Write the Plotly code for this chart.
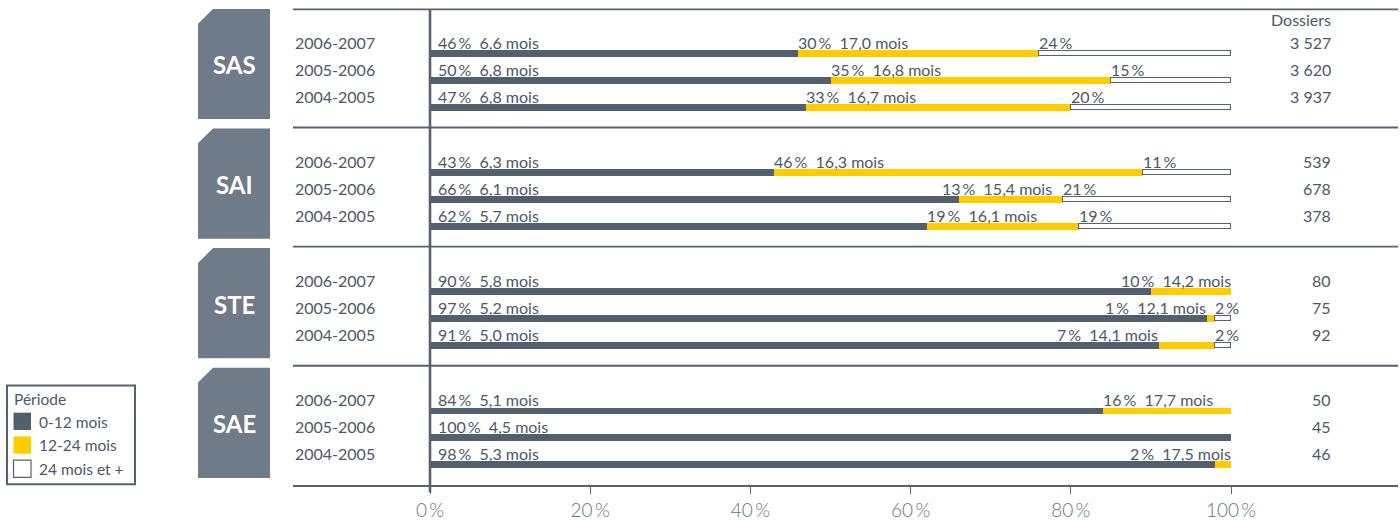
import plotly.graph_objects as go

# ---------------- data ----------------
groups = ["SAS", "SAI", "STE", "SAE"]
periods = ["2006-2007", "2005-2006", "2004-2005"]
pct_0_12 = [[46, 50, 47], [43, 66, 62], [90, 97, 91], [84, 100, 98]]
pct_12_24 = [[30, 35, 33], [46, 13, 19], [10, 1, 7], [16, 0, 2]]
pct_24_plus = [[24, 15, 20], [11, 21, 19], [0, 2, 2], [0, 0, 0]]
mois_0_12 = [[6.6, 6.8, 6.8], [6.3, 6.1, 5.7], [5.8, 5.2, 5.0], [5.1, 4.5, 5.3]]
mois_12_24 = [[17.0, 16.8, 16.7], [16.3, 15.4, 16.1], [14.2, 12.1, 14.1], [17.7, None, 17.5]]
dossiers = [[3527, 3620, 3937], [539, 678, 378], [80, 75, 92], [50, 45, 46]]
x_ticks = [0, 20, 40, 60, 80, 100]
legend_title = "Période"
legend_labels = ["0-12 mois", "12-24 mois", "24 mois et +"]
dossiers_title = "Dossiers"

# ---------------- style / layout ----------------
W, H = 1400, 521
C_DARK = "#525f6c"
C_YEL = "#ffcc00"
C_LINE = "#56626e"
C_TXT = "#4c5865"
C_BOX = "#6f7b89"
FONT = "Lato"

X0_PX, X100_PX = 430, 1231
PXP = (X100_PX - X0_PX) / 100.0
LEFT_PX, RIGHT_PX = 293, 1398
AXIS_Y_PX = 490.7
xr = [(LEFT_PX - X0_PX) / PXP, (RIGHT_PX - X0_PX) / PXP]

G_STEP, R_STEP, FIRST = 120.5, 27.3, 54.0


def px_x(p):
    return p / W


def px_y(p):
    return 1 - p / H


def fmt1(v):
    return f"{v:.1f}".replace(".", ",")


def pct(v):
    return f"{v}\u2009%"


ys, xd, xy, xw = [], [], [], []
for g in range(len(groups)):
    for r in range(len(periods)):
        ys.append(FIRST + g * G_STEP + r * R_STEP)
        xd.append(pct_0_12[g][r] or None)
        xy.append(pct_12_24[g][r] or None)
        xw.append(pct_24_plus[g][r] or None)

fig = go.Figure()
fig.add_trace(go.Bar(y=ys, x=xd, orientation="h", width=6.5, marker=dict(color=C_DARK, line=dict(width=0)),
                     name=legend_labels[0], showlegend=False, hoverinfo="skip"))
fig.add_trace(go.Bar(y=ys, x=xy, orientation="h", width=6.5, marker=dict(color=C_YEL, line=dict(width=0)),
                     name=legend_labels[1], showlegend=False, hoverinfo="skip"))
fig.add_trace(go.Bar(y=ys, x=xw, orientation="h", width=5.5, marker=dict(color="white", line=dict(width=1.2, color=C_LINE)),
                     name=legend_labels[2], showlegend=False, hoverinfo="skip"))

ann = []
shapes = []
lab_font = dict(family=FONT, size=16, color=C_TXT)


def text_pct_width(s):
    return len(s) * 7.4 / PXP


for g in range(len(groups)):
    for r in range(len(periods)):
        yc = FIRST + g * G_STEP + r * R_STEP
        ylab = yc - 11
        d, yv, wv = pct_0_12[g][r], pct_12_24[g][r], pct_24_plus[g][r]
        # year label
        ann.append(dict(x=px_x(LEFT_PX), xref="paper", y=ylab, yref="y", text=periods[r], showarrow=False,
                        xanchor="left", yanchor="middle", font=lab_font))
        # dossiers
        ann.append(dict(x=px_x(1333), xref="paper", y=ylab, yref="y",
                        text=f"{dossiers[g][r]:,}".replace(",", "\u00a0"), showarrow=False,
                        xanchor="right", yanchor="middle", font=lab_font))
        # dark label
        ann.append(dict(x=0, xref="x", y=ylab, yref="y",
                        text=f"{pct(d)}\u00a0\u00a0{fmt1(mois_0_12[g][r])} mois", showarrow=False,
                        xanchor="left", yanchor="middle", xshift=6, font=lab_font))
        # yellow label
        if yv:
            t = f"{pct(yv)}\u00a0\u00a0{fmt1(mois_12_24[g][r])} mois"
            wdt = text_pct_width(t)
            if wv:
                if d + wdt > d + yv - 1.5:
                    if wv < 5:
                        a = dict(x=d, xanchor="right", xshift=1)
                    else:
                        a = dict(x=d + yv, xanchor="right", xshift=-9)
                else:
                    a = dict(x=d, xanchor="left", xshift=-2)
            else:
                if d + wdt > 100:
                    a = dict(x=100, xanchor="right", xshift=2)
                else:
                    a = dict(x=d, xanchor="left", xshift=-2)
            ann.append(dict(xref="x", y=ylab, yref="y", text=t, showarrow=False, yanchor="middle",
                            font=lab_font, **a))
        if wv:
            ann.append(dict(x=d + yv, xref="x", y=ylab, yref="y", text=pct(wv), showarrow=False,
                            xanchor="left", yanchor="middle", xshift=-2, font=lab_font))

    # group box with cut corner
    top = 9 + g * 121
    bot = top + 111.5
    x1, x2 = 198, 270
    path = (f"M {px_x(x1)},{px_y(top + 15)} L {px_x(x1 + 15)},{px_y(top)} L {px_x(x2)},{px_y(top)} "
            f"L {px_x(x2)},{px_y(bot)} L {px_x(x1)},{px_y(bot)} Z")
    shapes.append(dict(type="path", path=path, xref="paper", yref="paper", fillcolor=C_BOX,
                       line=dict(width=0), layer="below"))
    ann.append(dict(x=px_x(234), xref="paper", y=px_y((top + bot) / 2 + 1), yref="paper", text=f"<b>{groups[g]}</b>",
                    showarrow=False, xanchor="center", yanchor="middle",
                    font=dict(family=FONT, size=24, color="white")))

# separators
for yl in [9.5, 129, 249.5, 370]:
    shapes.append(dict(type="line", xref="paper", yref="paper", x0=px_x(LEFT_PX), x1=px_x(RIGHT_PX),
                       y0=px_y(yl), y1=px_y(yl), line=dict(color=C_LINE, width=1.8)))
# zero line
shapes.append(dict(type="line", xref="x", yref="paper", x0=0, x1=0, y0=px_y(9.5), y1=px_y(498),
                   line=dict(color=C_LINE, width=2.6)))

ann.append(dict(x=px_x(1333), xref="paper", y=px_y(20), yref="paper", text=dossiers_title, showarrow=False,
                xanchor="right", yanchor="middle", font=lab_font))

# legend (drawn)
shapes.append(dict(type="rect", xref="paper", yref="paper", x0=px_x(7), x1=px_x(135), y0=px_y(390), y1=px_y(490),
                   line=dict(color=C_LINE, width=2), fillcolor="white"))
ann.append(dict(x=px_x(12), xref="paper", y=px_y(404), yref="paper", text=legend_title, showarrow=False,
                xanchor="left", yanchor="middle", font=dict(family=FONT, size=15.5, color=C_TXT)))
sw_cols = [C_DARK, C_YEL, "white"]
for i, lab in enumerate(legend_labels):
    t = 417.5 + i * 24
    shapes.append(dict(type="rect", xref="paper", yref="paper", x0=px_x(13.5), x1=px_x(31), y0=px_y(t), y1=px_y(t + 17.5),
                       fillcolor=sw_cols[i], line=dict(color=C_LINE if i == 2 else sw_cols[i], width=1.2 if i == 2 else 0)))
    ann.append(dict(x=px_x(37), xref="paper", y=px_y(t + 9), yref="paper", text=lab, showarrow=False,
                    xanchor="left", yanchor="middle", font=dict(family=FONT, size=15.5, color=C_TXT)))

fig.update_layout(
    width=W, height=H, margin=dict(l=0, r=0, t=0, b=0),
    paper_bgcolor="white", plot_bgcolor="white",
    barmode="stack", bargap=0,
    annotations=ann, shapes=shapes, showlegend=False,
    xaxis=dict(domain=[LEFT_PX / W, RIGHT_PX / W], range=xr, showgrid=False, zeroline=False,
               showline=True, linecolor=C_LINE, linewidth=1.5,
               ticks="outside", ticklen=7, tickwidth=1, tickcolor=C_LINE,
               tickvals=x_ticks, ticktext=[pct(v) for v in x_ticks],
               tickfont=dict(family=FONT, size=19, color="#66727f", weight=300)),
    yaxis=dict(domain=[(H - AXIS_Y_PX) / H, 1], range=[AXIS_Y_PX, 0], showgrid=False, zeroline=False,
               showticklabels=False, showline=False, ticks=""),
)

fig.write_html("out.html", config={"displayModeBar": False},
               post_script="document.body.style.margin='0px';document.body.style.overflow='hidden';")
